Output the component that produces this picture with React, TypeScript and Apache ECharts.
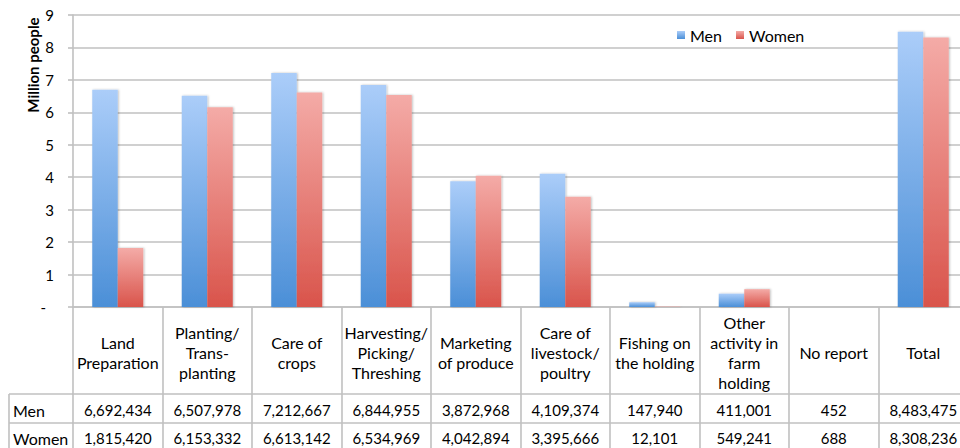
import React, { useEffect, useRef } from "react";
import * as echarts from "echarts";

const categories = [
  "Land\nPreparation",
  "Planting/\nTrans-\nplanting",
  "Care of\ncrops",
  "Harvesting/\nPicking/\nThreshing",
  "Marketing\nof produce",
  "Care of\nlivestock/\npoultry",
  "Fishing on\nthe holding",
  "Other\nactivity in\nfarm\nholding",
  "No report",
  "Total",
];
const seriesNames = ["Men", "Women"];
const menCounts = [6692434, 6507978, 7212667, 6844955, 3872968, 4109374, 147940, 411001, 452, 8483475];
const womenCounts = [1815420, 6153332, 6613142, 6534969, 4042894, 3395666, 12101, 549241, 688, 8308236];
const yMin = 0;
const yMax = 9;
const yInterval = 1;
const yAxisTitle = "Million people";

const FONT = "Lato, 'Open Sans', sans-serif";
const GRID = "#c0c0c0";

const fmt = (n: number) => n.toLocaleString("en-US");

export default function App() {
  const ref = useRef<HTMLDivElement>(null);
  useEffect(() => {
    if (!ref.current) return;
    const chart = echarts.init(ref.current, null, { renderer: "svg" });
    const grad = (top: string, bottom: string) =>
      new echarts.graphic.LinearGradient(0, 0, 0, 1, [
        { offset: 0, color: top },
        { offset: 1, color: bottom },
      ]);
    const menColor = grad("#abcdf9", "#4b8fd7");
    const womenColor = grad("#f4aba7", "#d9544b");
    const tableAxis = (labels: string[], offset: number, tickLen: number, margin: number) => ({
      type: "category",
      position: "bottom",
      offset,
      data: labels,
      axisLine: { show: true, lineStyle: { color: GRID, width: 1.6 } },
      axisTick: { show: true, length: tickLen, interval: 0, lineStyle: { color: GRID, width: 1.6 } },
      axisLabel: {
        interval: 0,
        margin,
        verticalAlign: "middle",
        color: "#000",
        fontSize: 15,
        fontFamily: FONT,
      },
      splitLine: { show: false },
    });
    chart.setOption({
      animation: false,
      textStyle: { fontFamily: FONT },
      grid: { left: 73, right: 0, top: 15, bottom: 141, containLabel: false },
      legend: {
        data: seriesNames,
        left: 677,
        top: 27,
        icon: "rect",
        itemWidth: 8,
        itemHeight: 8,
        itemGap: 14,
        padding: 0,
        textStyle: { fontSize: 16, color: "#000", fontFamily: FONT },
      },
      xAxis: [
        {
          type: "category",
          data: categories,
          axisLine: { show: true, lineStyle: { color: GRID, width: 1.6 } },
          axisTick: { show: true, length: 87, interval: 0, lineStyle: { color: GRID, width: 1.6 } },
          axisLabel: {
            interval: 0,
            margin: 45,
            verticalAlign: "middle",
            lineHeight: 20,
            color: "#000",
            fontSize: 16,
            fontFamily: FONT,
          },
        },
        tableAxis(menCounts.map(fmt), 87, 29, 16),
        tableAxis(womenCounts.map(fmt), 116, 40, 15),
      ],
      yAxis: {
        type: "value",
        min: yMin,
        max: yMax,
        interval: yInterval,
        axisLine: { show: true, lineStyle: { color: GRID, width: 1.6 } },
        axisTick: { show: true, length: 5, lineStyle: { color: GRID, width: 1.6 } },
        splitLine: { show: true, lineStyle: { color: GRID, width: 1.6 } },
        axisLabel: {
          margin: 19,
          color: "#000",
          fontSize: 15,
          fontFamily: FONT,
          formatter: (v: number) => (v === 0 ? "{d|-}" : String(v)),
          rich: { d: { padding: [0, 8, 0, 0], fontSize: 15, color: "#000", fontFamily: FONT } },
        },
      },
      series: [
        {
          name: seriesNames[0],
          type: "bar",
          xAxisIndex: 0,
          data: menCounts.map((v) => v / 1e6),
          barGap: "0%",
          barCategoryGap: "43%",
          itemStyle: { color: menColor, shadowBlur: 2, shadowColor: "rgba(0,0,0,0.25)", shadowOffsetX: 1 },
        },
        {
          name: seriesNames[1],
          type: "bar",
          xAxisIndex: 0,
          data: womenCounts.map((v) => v / 1e6),
          barGap: "0%",
          barCategoryGap: "43%",
          itemStyle: { color: womenColor, shadowBlur: 2, shadowColor: "rgba(0,0,0,0.25)", shadowOffsetX: 1 },
        },
      ],
      graphic: [
        {
          type: "text",
          x: 33,
          y: 65,
          rotation: Math.PI / 2,
          style: {
            text: yAxisTitle,
            font: `bold 15px ${FONT}`,
            fill: "#000",
            align: "center",
            verticalAlign: "middle",
          },
        },
        { type: "line", shape: { x1: 9, y1: 394, x2: 73, y2: 394 }, style: { stroke: GRID, lineWidth: 1.6 } },
        { type: "line", shape: { x1: 9, y1: 423, x2: 73, y2: 423 }, style: { stroke: GRID, lineWidth: 1.6 } },
        { type: "line", shape: { x1: 9, y1: 394, x2: 9, y2: 448 }, style: { stroke: GRID, lineWidth: 1.6 } },
        {
          type: "text",
          x: 13,
          y: 410,
          style: { text: seriesNames[0], font: `16px ${FONT}`, fill: "#000", verticalAlign: "middle" },
        },
        {
          type: "text",
          x: 13,
          y: 438,
          style: { text: seriesNames[1], font: `16px ${FONT}`, fill: "#000", verticalAlign: "middle" },
        },
      ],
    });
    return () => chart.dispose();
  }, []);
  return (
    <div style={{ position: "absolute", left: 0, top: 0, width: 960, height: 448, overflow: "hidden" }}>
      <div ref={ref} style={{ width: 968, height: 448 }} />
    </div>
  );
}
